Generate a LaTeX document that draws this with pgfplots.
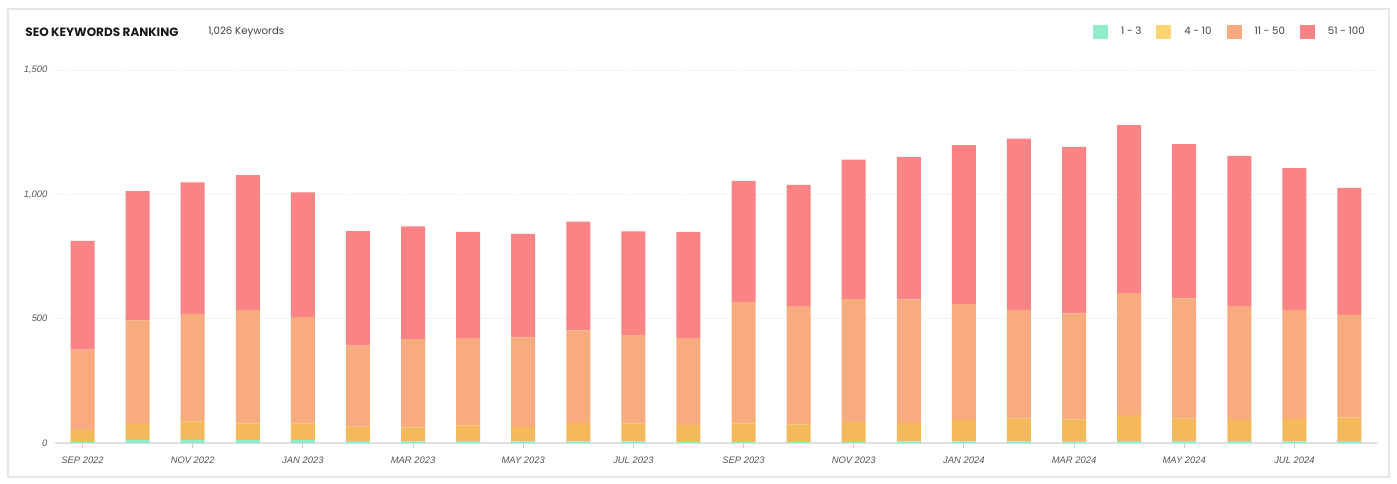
\documentclass[border=0pt]{standalone}
\usepackage{pgfplots}
\pgfplotsset{compat=1.18}
\usepackage{pgfplotstable}
\usepackage{fontspec}
\setmainfont{Liberation Sans}
\newfontfamily\pop{Poppins}
\definecolor{cg}{HTML}{8EEDC7}
\definecolor{cy}{HTML}{F4B95B}
\definecolor{cyl}{HTML}{FDD572}
\definecolor{co}{HTML}{F9AB80}
\definecolor{cr}{HTML}{F98385}
\definecolor{tickgray}{HTML}{555555}
\definecolor{hdr}{HTML}{404040}
\definecolor{frame}{HTML}{E6E6E6}
\pgfplotstableread{
x g y o r
0 5 47 324 437
1 13 64 416 520
2 13 74 432 529
3 12 67 456 542
4 12 66 429 501
5 8 58 326 460
6 7 56 355 453
7 9 62 351 427
8 7 58 360 416
9 7 74 372 437
10 7 71 357 416
11 5 68 349 427
12 5 74 488 487
13 5 70 475 488
14 5 80 494 561
15 7 74 497 573
16 7 86 465 640
17 7 92 436 689
18 6 89 426 670
19 9 103 491 675
20 9 90 483 620
21 9 84 457 605
22 7 90 438 570
23 8 94 413 511
}\data
\begin{document}
\begin{tikzpicture}
\path (-27.5pt,-20pt) rectangle (671pt,221.5pt);
\draw[draw=frame, line width=0.6pt] (-23.5pt,-17pt) rectangle (667pt,217pt);
\node[anchor=base west, font=\pop\bfseries\fontsize{6}{7}\selectfont, text=black!90, inner sep=0pt] at (-15pt,203.2pt) {SEO KEYWORDS RANKING};
\node[anchor=base west, font=\pop\fontsize{5.1}{6}\selectfont, text=hdr, inner sep=0pt] at (76.5pt,204pt) {1,026 Keywords};
\begin{axis}[
  ybar stacked, bar width=12pt,
  scale only axis, width=661pt, height=186.5pt,
  xmin=-0.5, xmax=23.5, ymin=0, ymax=1500,
  axis lines=left,
  x axis line style={-, draw=black!12, line width=0.6pt},
  y axis line style={draw=none},
  ytick={0,500,1000,1500},
  yticklabels={0,500,{1,000},{1,500}},
  ymajorgrids,
  grid style={densely dotted, draw=black!13, line width=0.4pt},
  ytick style={draw=none},
  xtick={0,2,...,22},
  xticklabels={SEP 2022,NOV 2022,JAN 2023,MAR 2023,MAY 2023,JUL 2023,SEP 2023,NOV 2023,JAN 2024,MAR 2024,MAY 2024,JUL 2024},
  xtick style={draw=black!20, line width=0.4pt},
  xtick align=outside,
  major tick length=2.5pt,
  tick label style={font=\fontsize{4.7}{5}\selectfont\itshape, text=tickgray},
  yticklabel style={xshift=1pt},
  xticklabel style={yshift=-1pt},
  legend columns=4,
  legend style={draw=none, fill=none, at={(0.7852,1.1024)}, anchor=west,
    inner sep=0pt, outer sep=0pt,
    font=\pop\fontsize{5.1}{6}\selectfont, text=hdr,
    /tikz/every odd column/.append style={column sep=4.5pt},
    /tikz/every even column/.append style={column sep=5.5pt}},
  legend cell align=left,
]
\addplot[fill=cg, draw=none, legend image code/.code={\fill[cg] (0pt,-3.5pt) rectangle (7.5pt,3.5pt);}] table[x=x,y=g] \data;
\addplot[fill=cy, draw=none, legend image code/.code={\fill[cyl] (0pt,-3.5pt) rectangle (7.5pt,3.5pt);}] table[x=x,y=y] \data;
\addplot[fill=co, draw=none, legend image code/.code={\fill[co] (0pt,-3.5pt) rectangle (7.5pt,3.5pt);}] table[x=x,y=o] \data;
\addplot[fill=cr, draw=none, legend image code/.code={\fill[cr] (0pt,-3.5pt) rectangle (7.5pt,3.5pt);}] table[x=x,y=r] \data;
\legend{1 - 3,4 - 10,11 - 50,51 - 100}
\end{axis}
\end{tikzpicture}
\end{document}
